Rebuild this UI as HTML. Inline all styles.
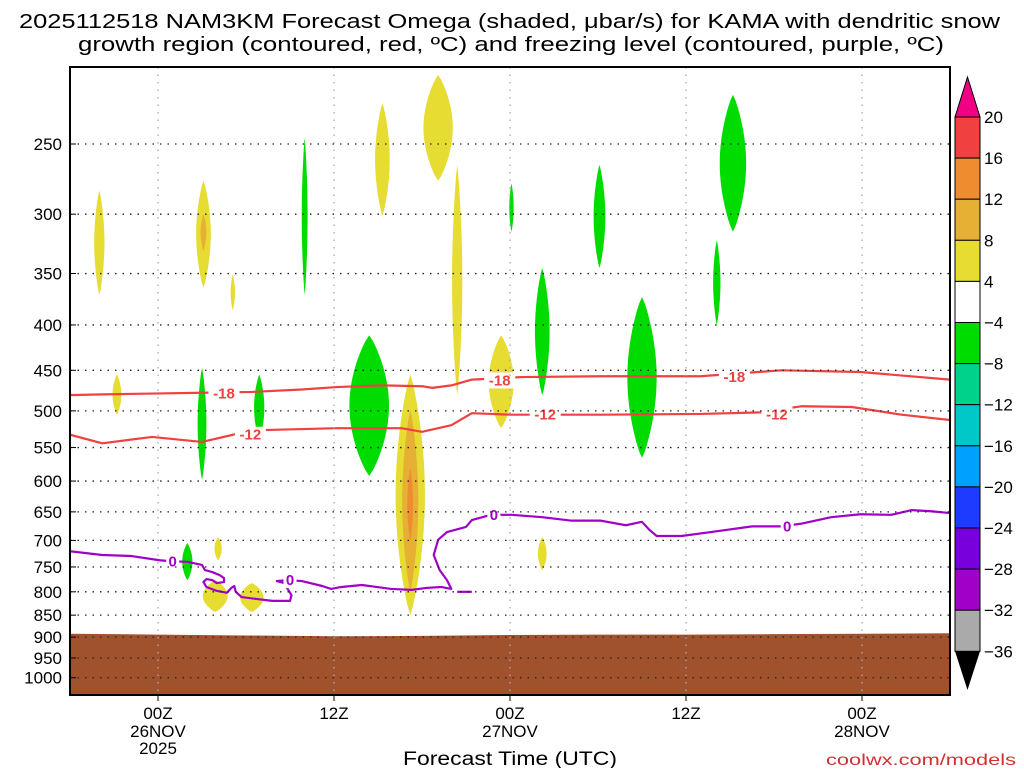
<!DOCTYPE html>
<html><head><meta charset="utf-8"><style>
body{margin:0;background:#fff;}
svg text{font-family:"Liberation Sans",sans-serif;}
</style></head><body>
<svg id="c" width="1024" height="768" xmlns="http://www.w3.org/2000/svg">
<text x="19" y="28" font-size="20" textLength="981" lengthAdjust="spacingAndGlyphs">2025112518 NAM3KM Forecast Omega (shaded, μbar/s) for KAMA with dendritic snow</text>
<text x="78" y="51" font-size="20" textLength="866" lengthAdjust="spacingAndGlyphs">growth region (contoured, red, ºC) and freezing level (contoured, purple, ºC)</text>
<g id="plot"></g>
<text x="403" y="765" font-size="19" textLength="214" lengthAdjust="spacingAndGlyphs">Forecast Time (UTC)</text>
<text x="826" y="765" font-size="16" fill="#d03030" textLength="190" lengthAdjust="spacingAndGlyphs">coolwx.com/models</text>
<g id="cbar"></g>
</svg>
<script>
const NS="http://www.w3.org/2000/svg";
const pLevels=[250,300,350,400,450,500,550,600,650,700,750,800,850,900,950,1000];
const timeTicks=[6,18,30,42,54];
const timeLabels=["00Z","12Z","00Z","12Z","00Z"];
const dateLabels=["26NOV","","27NOV","","28NOV"];
const cbLevels=[20,16,12,8,4,-4,-8,-12,-16,-20,-24,-28,-32,-36];
const cbColors=["#f04040","#f08c30","#e6b035","#e6dc32","#ffffff","#00dc00","#00d28c","#00c8c8","#00a0ff","#1e3cff","#7800dc","#a000c8","#aaaaaa"];
// blobs: hour, pTop, pBot, halfWidth(hours), colorIndex
const blobHour=[2.0,9.1,9.1,11.1,3.2,21.3,25.1,26.4,29.4,23.2,23.2,23.2,32.2,10.1,9.9,12.4,16.0,9.0,12.9,8.0,20.4,30.1,32.2,36.1,39.0,45.2,44.1];
const blobTop=[282,275,300,351,455,225,209,264,411,455,499,580,694,694,776,782,246,447,455,705,411,277,345,264,372,220,321];
const blobBot=[370,363,330,385,505,301,275,480,523,850,800,700,756,737,843,843,370,598,540,776,592,314,480,345,565,314,400];
const blobHW=[0.35,0.5,0.2,0.15,0.3,0.5,1.0,0.35,0.85,1.0,0.55,0.2,0.3,0.25,0.85,0.8,0.2,0.3,0.35,0.35,1.35,0.15,0.5,0.4,1.0,0.9,0.25];
const blobColor=[3,3,2,3,3,3,3,3,3,3,2,1,3,3,3,3,5,5,5,5,5,5,5,5,5,5,5];
const surfHour=[0,6,12,18,24,30,36,42,48,54,60];
const surfP=[892,894,896,898,897,895,894,894,893,892,891];
const m18Hour=[0,2.2,5.6,9,12.4,15.8,18.2,21.3,24,24.7,26,27.4,30.8,36.2,43,48.5,53.9,60];
const m18P=[480,479,478,477,476,473,470,468,469,471,468,461,458,457,457,450,452,461];
const m12Hour=[0,2.2,5.6,9,12.4,18.2,22.6,24,26,27.4,30.1,36.2,43,47.1,49.9,53.3,56.7,60];
const m12P=[532,544,535,542,526,523,523,528,519,503,505,505,504,502,494,495,505,512];
const zHour=[0,2.2,4.2,6.1,6.9,8,9,9.2,9.7,10.2,10.5,10.5,10,9.7,9.3,9.1,9.3,10,10.7,11,11.2,11.3,11.7,12.7,13.8,15,15.1,14.6,14.1,14.8,15.8,17.2,17.8,18.5,19.9,21.9,23.3,24.3,25.3,26,25.7,25.2,24.8,25.1,25.7,27,27.4,28.7,30.1,32.2,34.2,36.2,37.9,39,39.5,40,41.7,43.7,46.5,48.5,49.9,51.9,53.9,56,57.4,58.7,60];
const zP=[720,727,729,737,739,740,746,756,760,766,772,780,782,776,774,780,790,798,802,792,788,800,811,815,819,819,807,782,778,776,778,788,794,790,786,794,796,792,790,794,776,756,727,699,685,676,664,655,655,659,665,665,673,667,681,692,692,685,675,675,670,659,654,655,647,649,652];
const labHour=[10.5,29.3,45.3,12.3,32.4,48.2,7.0,15.0,28.9,48.9];
const labP=[478,462,458,532,505,505,739,776,655,675];
const labText=["-18","-18","-18","-12","-12","-12","0","0","0","0"];
const labColor=["#f04040","#f04040","#f04040","#f04040","#f04040","#f04040","#a000c8","#a000c8","#a000c8","#a000c8"];

const X0=70,X1=950,Y0=67,Y1=695;
const xOf=h=>X0+h*(X1-X0)/60;
const yOf=p=>144+385*Math.log(p/250);
const plot=document.getElementById('plot');
function mk(tag,attrs,parent){const e=document.createElementNS(NS,tag);for(const k in attrs)e.setAttribute(k,attrs[k]);(parent||plot).appendChild(e);return e;}
const clip=mk('clipPath',{id:'pc'});mk('rect',{x:X0,y:Y0,width:X1-X0,height:Y1-Y0},clip);
const g=mk('g',{'clip-path':'url(#pc)'});
for(let i=0;i<blobHour.length;i++){
  const N=24;let pts=[];const lt=Math.log(blobTop[i]),lb=Math.log(blobBot[i]);
  for(let k=0;k<=N;k++){const t=k/N;const p=Math.exp(lt+(lb-lt)*t);const w=blobHW[i]*Math.pow(Math.sin(Math.PI*t),0.8);pts.push([xOf(blobHour[i]+w),yOf(p)]);}
  for(let k=N;k>=0;k--){const t=k/N;const p=Math.exp(lt+(lb-lt)*t);const w=blobHW[i]*Math.pow(Math.sin(Math.PI*t),0.8);pts.push([xOf(blobHour[i]-w),yOf(p)]);}
  const e=mk('polygon',{points:pts.map(q=>q.join(',')).join(' '),fill:cbColors[blobColor[i]]},g);
  
  
}
{let pts=surfHour.map((h,i)=>xOf(h)+','+yOf(surfP[i]));pts.push(X1+','+Y1,X0+','+Y1);
const e=mk('polygon',{points:pts.join(' '),fill:'#a0522d'},g);

}
pLevels.forEach(p=>{const e=mk('line',{x1:X0,x2:X1,y1:yOf(p),y2:yOf(p),stroke:'#222','stroke-width':1.3,'stroke-dasharray':'1.5 6'});

});
timeTicks.forEach(h=>{const e=mk('line',{x1:xOf(h),x2:xOf(h),y1:Y0,y2:Y1,stroke:'#aaa','stroke-width':1.3,'stroke-dasharray':'1.5 6'});

});
function line(hs,ps,col,name){const e=mk('polyline',{points:hs.map((h,i)=>xOf(h)+','+yOf(ps[i])).join(' '),fill:'none',stroke:col,'stroke-width':2.2,'stroke-linejoin':'round'},g);

}
line(m18Hour,m18P,'#f04040','contour-minus18');
line(m12Hour,m12P,'#f04040','contour-minus12');
line(zHour,zP,'#a000c8','freezing-level-contour');
line([26.4,27.4],[800,800],'#a000c8','freezing-level-fragment');
labHour.forEach((h,i)=>{const x=xOf(h),y=yOf(labP[i]);const w=labText[i].length*9+4;
mk('rect',{x:x-w/2,y:y-8,width:w,height:16,fill:'#fff'},g);
const t=mk('text',{x:x,y:y+5,'text-anchor':'middle','font-size':15,'font-weight':'bold',fill:labColor[i]},g);t.textContent=labText[i];

});
mk('rect',{x:X0,y:Y0,width:X1-X0,height:Y1-Y0,fill:'none',stroke:'#000','stroke-width':2});
pLevels.forEach(p=>{const t=mk('text',{x:62,y:yOf(p)+6,'text-anchor':'end','font-size':17});t.textContent=p;


mk('line',{x1:X0,x2:X0+6,y1:yOf(p),y2:yOf(p),stroke:'#000'});});
timeTicks.forEach((h,i)=>{const x=xOf(h);mk('line',{x1:x,x2:x,y1:Y1,y2:Y1+6,stroke:'#000'});
const t=mk('text',{x:x,y:719,'text-anchor':'middle','font-size':17});t.textContent=timeLabels[i];


if(dateLabels[i]){const d=mk('text',{x:x,y:737,'text-anchor':'middle','font-size':17});d.textContent=dateLabels[i];

}});
{const t=mk('text',{x:xOf(6),y:754,'text-anchor':'middle','font-size':17});t.textContent='2025';

}
const cb=document.getElementById('cbar');
const cy0=117,dy=41.1,cx=955,cw=25;
mk('polygon',{points:`${cx},${cy0} ${cx+cw},${cy0} ${cx+cw/2},77`,fill:'#f00082',stroke:'#000'},cb);
cbColors.forEach((c,i)=>{const r=mk('rect',{x:cx,y:cy0+i*dy,width:cw,height:dy,fill:c,stroke:'#000'},cb);

});
const yb=cy0+cbColors.length*dy;
mk('polygon',{points:`${cx},${yb} ${cx+cw},${yb} ${cx+cw/2},690`,fill:'#000'},cb);
cbLevels.forEach((v,i)=>{const t=mk('text',{x:cx+cw+4,y:cy0+i*dy+6,'font-size':17},cb);t.textContent=v<0?'\u2212'+(-v):v;

});
</script>
</body></html>
